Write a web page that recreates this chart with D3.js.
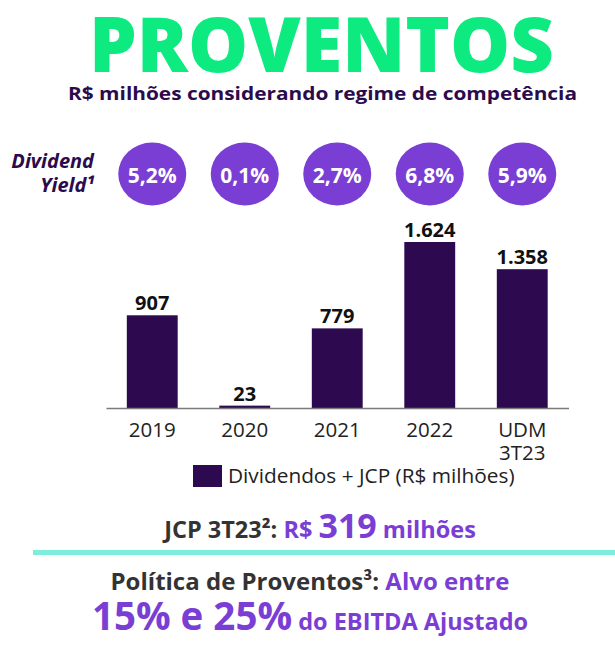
<!DOCTYPE html>
<html>
<head>
<meta charset="utf-8">
<script src="https://cdn.jsdelivr.net/npm/d3@7"></script>
<style>
  html, body { margin: 0; padding: 0; background: #fff; }
  svg { display: block; font-family: "Open Sans", "Noto Sans", sans-serif; }
</style>
</head>
<body>
<svg id="chart" width="615" height="645"></svg>
<script>
// ---- data ----
const categories = ["2019", "2020", "2021", "2022", "UDM 3T23"];
const values = [907, 23, 779, 1624, 1358];
const valueLabels = ["907", "23", "779", "1.624", "1.358"];
const yields = ["5,2%", "0,1%", "2,7%", "6,8%", "5,9%"];
const seriesName = "Dividendos + JCP (R$ milhões)";

const green = "#0DEA7F", dark = "#2C0B4D", bar = "#2D0A50", purple = "#7A3ED4", gray = "#333333";
const FONT = '"Open Sans", "Noto Sans", sans-serif';

const svg = d3.select("#chart");

// Title
svg.append("text").attr("x", 89).attr("y", 72)
  .attr("textLength", 465).attr("lengthAdjust", "spacingAndGlyphs")
  .style("font-size", "77px").style("font-weight", 800).attr("fill", green)
  .text("PROVENTOS");
svg.append("text").attr("x", 68).attr("y", 100)
  .attr("textLength", 509).attr("lengthAdjust", "spacingAndGlyphs")
  .style("font-size", "18.5px").style("font-weight", 700).attr("fill", dark)
  .text("R$ milhões considerando regime de competência");

// Scales
const x = d3.scaleBand().domain(categories).range([106, 568.5]).paddingInner(0.45).paddingOuter(0.225);
const y = d3.scaleLinear().domain([0, d3.max(values)]).range([408, 242]);

// Dividend yield label
const dy = svg.append("text").attr("text-anchor", "end")
  .style("font-size", "20px").style("font-weight", 700).style("font-style", "italic").attr("fill", dark);
dy.append("tspan").attr("x", 94).attr("y", 168).text("Dividend");
dy.append("tspan").attr("x", 94).attr("y", 192).text("Yield¹");

// Yield bubbles
const bub = svg.append("g").selectAll("g").data(categories).join("g")
  .attr("transform", d => `translate(${x(d) + x.bandwidth() / 2},174)`);
bub.append("ellipse").attr("rx", 34).attr("ry", 31.5).attr("fill", purple);
bub.append("text").attr("y", 9).attr("text-anchor", "middle")
  .style("font-size", "21px").style("font-weight", 700).attr("fill", "#fff")
  .text((d, i) => yields[i]);

// Bars
svg.append("g").selectAll("rect").data(categories).join("rect")
  .attr("x", d => x(d)).attr("width", x.bandwidth())
  .attr("y", (d, i) => y(values[i])).attr("height", (d, i) => y(0) - y(values[i]))
  .attr("fill", bar);

// Value labels
svg.append("g").selectAll("text").data(categories).join("text")
  .attr("x", d => x(d) + x.bandwidth() / 2).attr("y", (d, i) => y(values[i]) - 5)
  .attr("text-anchor", "middle").style("font-size", "20px").style("font-weight", 700).attr("fill", "#111")
  .text((d, i) => valueLabels[i]);

// X axis
const axis = svg.append("g").attr("transform", `translate(0,${y(0)})`)
  .call(d3.axisBottom(x).tickSize(0).tickPadding(0).tickFormat(""))
  .attr("font-family", FONT).attr("font-size", null);
axis.select(".domain").attr("stroke", "#7a7a7a").attr("stroke-width", 1.5);
axis.selectAll(".tick").each(function (d) {
  const t = d3.select(this).append("text").attr("text-anchor", "middle")
    .attr("fill", "#222").style("font-size", "20.5px").style("font-family", FONT);
  d.split(" ").forEach((w, i) => t.append("tspan").attr("x", 0).attr("y", 29 + i * 23).text(w));
});

// Legend
svg.append("rect").attr("x", 193).attr("y", 465).attr("width", 29).attr("height", 22).attr("fill", bar);
svg.append("text").attr("x", 228).attr("y", 483)
  .style("font-size", "20.8px").attr("fill", "#222").text(seriesName);

// JCP line
const j = svg.append("text").attr("x", 320).attr("y", 538).attr("text-anchor", "middle")
  .style("font-weight", 700).style("font-size", "23.5px");
j.append("tspan").attr("fill", gray).text("JCP 3T23²: ");
j.append("tspan").attr("fill", purple).text("R$ ");
j.append("tspan").attr("fill", purple).style("font-size", "34px").text("319");
j.append("tspan").attr("fill", purple).text(" milhões");

// Teal rule
svg.append("line").attr("x1", 33).attr("x2", 615).attr("y1", 552.5).attr("y2", 552.5)
  .attr("stroke", "#7DEEDB").attr("stroke-width", 5);

// Policy text
const p = svg.append("text").attr("x", 310).attr("y", 590).attr("text-anchor", "middle")
  .style("font-weight", 700).style("font-size", "24px");
p.append("tspan").attr("fill", gray).text("Política de Proventos³: ");
p.append("tspan").attr("fill", purple).text("Alvo entre");

const q = svg.append("text").attr("x", 310).attr("y", 630).attr("text-anchor", "middle")
  .style("font-weight", 700).attr("fill", purple);
q.append("tspan").style("font-size", "38.5px").text("15% e 25%");
q.append("tspan").style("font-size", "23.5px").text(" do EBITDA Ajustado");
</script>
</body>
</html>
